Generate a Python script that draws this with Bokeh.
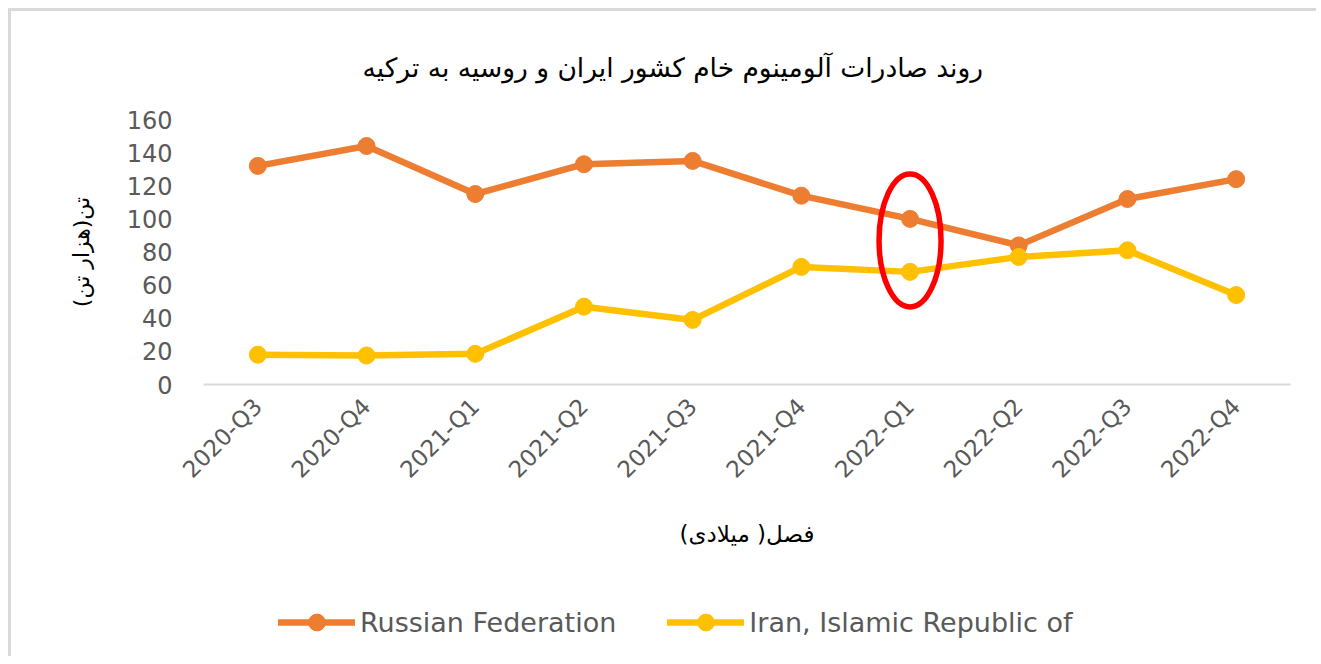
import math
from bokeh.plotting import figure
from bokeh.layouts import column
from bokeh.models import FactorRange, Range1d, Legend, LegendItem, FixedTicker
from bokeh.embed import file_html
from bokeh.resources import INLINE

quarters = ["2020-Q3", "2020-Q4", "2021-Q1", "2021-Q2", "2021-Q3",
            "2021-Q4", "2022-Q1", "2022-Q2", "2022-Q3", "2022-Q4"]
russia = [132, 144, 115, 133, 135, 114, 100, 84, 112, 124]
iran = [18, 17.5, 18.5, 47, 39, 71, 68, 77, 81, 54]
y_ticks = [0, 20, 40, 60, 80, 100, 120, 140, 160]
series_names = ["Russian Federation", "Iran, Islamic Republic of"]
series_colors = ["#ED7D31", "#FFC000"]
title_text = "روند صادرات آلومینوم خام کشور ایران و روسیه به ترکیه"
x_title = "فصل( میلادی)"
y_title = "تن(هزار تن)"
highlight_quarter = "2022-Q1"
highlight_value = 87

FA_FONT = "DejaVu Sans"
LAT_FONT = "DejaVu Sans"
GRAY = "#595959"

p = figure(x_range=FactorRange(*quarters), y_range=Range1d(0, 160),
           width=1305, height=579, output_backend="svg", toolbar_location=None,
           min_border_left=192, min_border_right=26, min_border_top=108,
           min_border_bottom=206)
p.outline_line_color = None
p.xgrid.visible = False
p.ygrid.visible = False

# title
p.title.text = title_text
p.title.align = "left"
p.title.offset = 159
p.title.standoff = 73
p.title.text_font = FA_FONT
p.title.text_font_size = "26.5px"
p.title.text_font_style = "normal"
p.title.text_color = "#000000"

# axes
p.yaxis.ticker = FixedTicker(ticks=y_ticks)
p.yaxis.axis_line_color = None
p.yaxis.major_tick_line_color = None
p.yaxis.minor_tick_line_color = None
p.yaxis.major_label_text_font = LAT_FONT
p.yaxis.major_label_text_font_size = "24px"
p.yaxis.major_label_text_color = GRAY
p.yaxis.major_label_standoff = 25
p.yaxis.axis_label = y_title
p.yaxis.axis_label_text_font = FA_FONT
p.yaxis.axis_label_text_font_size = "22px"
p.yaxis.axis_label_text_font_style = "normal"
p.yaxis.axis_label_text_color = "#000000"
p.yaxis.axis_label_standoff = 30

p.xaxis.axis_line_color = "#d9d9d9"
p.xaxis.axis_line_width = 2
p.xaxis.major_tick_line_color = None
p.xaxis.minor_tick_line_color = None
p.xaxis.major_label_orientation = math.pi / 4
p.xaxis.major_label_text_font = LAT_FONT
p.xaxis.major_label_text_font_size = "23px"
p.xaxis.major_label_text_color = GRAY
p.xaxis.major_label_standoff = 12
p.xaxis.axis_label = x_title
p.xaxis.axis_label_text_font = FA_FONT
p.xaxis.axis_label_text_font_size = "23px"
p.xaxis.axis_label_text_font_style = "normal"
p.xaxis.axis_label_text_color = "#000000"
p.xaxis.axis_label_standoff = 26

for name, vals, col in zip(series_names, [russia, iran], series_colors):
    p.line(quarters, vals, line_color=col, line_width=6.5, line_cap="round", line_join="round")
    p.scatter(quarters, vals, size=17, fill_color=col, line_color=col, marker="circle")

# highlight ellipse
p.ellipse(x=[highlight_quarter], y=[highlight_value], width=62, height=133,
          width_units="screen", height_units="screen",
          fill_color=None, line_color="#FF0000", line_width=5.5)

# legend strip (separate figure below the chart; its series lie outside its view)
lg = figure(width=1305, height=66, output_backend="svg", toolbar_location=None,
            x_range=FactorRange(*quarters), y_range=Range1d(-1000, -999),
            x_axis_location=None, y_axis_location=None,
            min_border_left=0, min_border_right=0, min_border_top=0, min_border_bottom=0)
lg.outline_line_color = None
lg.xgrid.visible = False
lg.ygrid.visible = False
items = []
for name, vals, col in zip(series_names, [russia, iran], series_colors):
    r1 = lg.line(quarters, vals, line_color=col, line_width=6.5, line_cap="round")
    r2 = lg.scatter(quarters, vals, size=17, fill_color=col, line_color=col, marker="circle")
    items.append(LegendItem(label=name, renderers=[r1, r2]))
legend = Legend(items=items, orientation="horizontal", location=(75, 13),
                glyph_width=77, glyph_height=42, label_standoff=5, spacing=51,
                padding=0, margin=0, border_line_color=None, background_fill_alpha=0,
                label_text_font=LAT_FONT, label_text_font_size="27px",
                label_text_color=GRAY)
lg.add_layout(legend, "center")

layout = column(p, lg, spacing=0,
                styles={"border-left": "3px solid #d9d9d9", "border-top": "3px solid #d9d9d9",
                        "margin-left": "8px", "margin-top": "8px"})

open("out.html", "w").write(file_html(layout, INLINE))
